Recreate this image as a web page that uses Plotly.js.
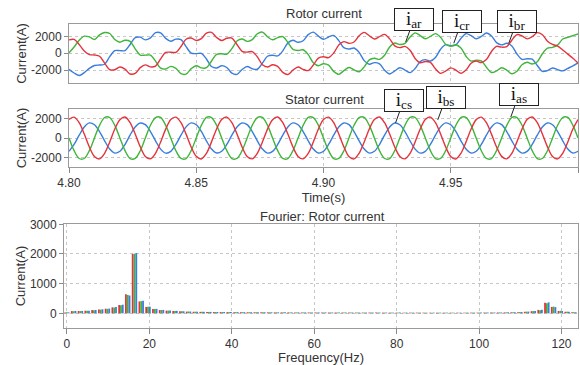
<!DOCTYPE html>
<html><head><meta charset="utf-8">
<script src="https://cdn.plot.ly/plotly-3.0.1.min.js"></script>
<style>html,body{margin:0;padding:0;background:#fff}#chart{width:580px;height:365px}</style>
</head><body><div id="chart"></div>
<script>
// ---- data ----
const timeStart = 4.8;      // s
const timeStep = 0.002;     // s (sample spacing)

const rotorRed = [1600,1650,1050,268,-150,-200,-350,-1170,-1957,-1962,
-1633,-1884,-2467,-2403,-1710,-1377,-1622,-1522,-665,98,
132,114,806,1678,1818,1521,1746,2402,2496,1885,
1527,1790,1814,1045,238,143,207,-422,-1356,-1626,
-1370,-1564,-2274,-2525,-2013,-1637,-1912,-2059,-1399,-568,
-415,-521,27,999,1394,1185,1342,2088,2489,2089,
1707,1984,2250,1716,885,676,822,367,-617,-1124,
-971,-1087,-1849,-2389,-2112,-1734,-2007,-2384,-1991,-1179,
-920,-1102,-752,218,826,731,804,1563,2229,2081,
1717,1978,2457,2214,1444,1050,850,400,-100,-600,-1150];

const rotorGreen = [50,750,1550,2039,1950,1650,2200,2476,2359,1642,
1319,1557,1416,533,-210,-223,-221,-929,-1777,-1871,
-1562,-1796,-2431,-2472,-1832,-1481,-1739,-1722,-921,-126,
-51,-101,552,1468,1695,1425,1629,2323,2523,1976,
1606,1876,1983,1284,459,326,418,-160,-1122,-1476,
-1251,-1420,-2157,-2508,-2069,-1688,-1966,-2193,-1614,-782,
-590,-724,-236,747,1219,1046,1174,1934,2429,2111,
1730,2005,2346,1905,1084,840,1012,627,-352,-928,
-813,-901,-1663,-2289,-2097,-1728,-1995,-2440,-2145,-1360,
-1070,-1274,-999,-52,616,700,1000,1700,1900,2100,2300];

const rotorBlue = [-1900,-2350,-2650,-2307,-1800,-1450,-1400,-1306,-402,320,
314,327,1051,1870,1920,1600,1843,2451,2442,1773,
1430,1682,1625,794,14,-40,-7,-680,-1575,-1759,
-1476,-1689,-2366,-2513,-1933,-1568,-1836,-1901,-1167,-350,
-236,-312,291,1241,1554,1311,1494,2219,2521,2044,
1666,1941,2130,1509,675,503,624,105,-875,-1307,
-1117,-1260,-2014,-2463,-2104,-1722,-1996,-2301,-1812,-987,
-759,-918,-497,484,1028,894,995,1757,2343,2107,
1733,2003,2415,2071,1271,997,1191,877,-84,-721,
-647,-704,-1458,-2162,-2060,-1750,-1950,-2100,-1800,-1500,-1150];

const statorRed = [1884,2133,1567,403,-915,-1884,-2133,-1567,-403,915,
1870,2140,1580,410,-900,-1890,-2120,-1560,-410,905,
1890,2125,1560,395,-920,-1875,-2140,-1575,-395,920,
1880,2135,1570,405,-910,-1885,-2130,-1565,-405,910,
1875,2145,1565,400,-915,-1880,-2125,-1570,-400,915,
1885,2130,1575,410,-905,-1890,-2135,-1560,-410,920,
1880,2140,1560,400,-920,-1880,-2130,-1575,-400,910,
1890,2135,1570,405,-910,-1885,-2140,-1565,-405,915,
1875,2125,1565,395,-915,-1875,-2125,-1570,-395,905,
1885,2140,1575,410,-905,-1890,-2135,-1560,-410,920,1880];

const statorBlue = [-1358,-660,290,1130,1538,1358,660,-290,-1130,-1538,
-1350,-665,295,1125,1530,1365,655,-285,-1135,-1545,
-1362,-655,285,1135,1540,1350,665,-295,-1125,-1530,
-1355,-660,290,1128,1535,1360,660,-290,-1132,-1540,
-1360,-662,292,1132,1542,1355,658,-288,-1128,-1536,
-1352,-658,288,1130,1536,1362,662,-292,-1130,-1542,
-1358,-664,294,1126,1532,1356,656,-286,-1134,-1538,
-1364,-656,286,1134,1540,1352,664,-294,-1126,-1534,
-1356,-660,290,1130,1538,1360,660,-290,-1130,-1540,
-1360,-662,292,1128,1534,1358,658,-288,-1132,-1536,-1356];

const statorGreen = [0,-1293,-2092,-2092,-1293,0,1293,2092,2092,1293,
10,-1285,-2100,-2085,-1300,-10,1300,2085,2100,1285,
-5,-1298,-2088,-2098,-1288,5,1288,2098,2088,1298,
5,-1290,-2095,-2090,-1295,0,1295,2090,2095,1290,
0,-1295,-2090,-2095,-1290,-5,1290,2095,2090,1295,
-8,-1288,-2098,-2088,-1298,8,1298,2088,2098,1288,
4,-1294,-2092,-2094,-1292,-4,1292,2094,2092,1294,
0,-1292,-2094,-2090,-1294,2,1294,2090,2094,1292,
-4,-1296,-2090,-2096,-1290,-2,1290,2096,2090,1296,
6,-1290,-2096,-2092,-1296,4,1296,2092,2096,1290,0];

const fftFreq = [0,1.64,3.28,4.92,6.56,8.2,9.84,11.48,13.12,14.76,
16.4,18.04,19.68,21.32,22.96,24.6,26.24,27.88,29.52,31.16,
32.8,34.44,36.08,37.72,39.36,41,42.64,44.28,45.92,47.56,
49.2,50.84,52.48,54.12,55.76,57.4,59.04,60.68,62.32,63.96,
65.6,67.24,68.88,70.52,72.16,73.8,75.44,77.08,78.72,80.36,
82,83.64,85.28,86.92,88.56,90.2,91.84,93.48,95.12,96.76,
98.4,100.04,101.68,103.32,104.96,106.6,108.24,109.88,111.52,113.16,
114.8,116.44,118.08,119.72,121.36,123];

const fftRed = [30,75,78,88,108,130,155,200,280,640,
2000,400,215,145,110,90,78,68,58,52,
48,46,44,42,40,38,37,36,35,34,
33,32,31,30,30,29,29,28,28,27,
27,26,26,25,25,25,24,24,24,23,
23,23,23,22,22,22,22,22,23,23,
23,24,25,26,28,30,34,40,52,72,
115,360,215,80,52,36];

const fftGreen = [35,70,75,85,105,125,150,195,270,620,
2010,410,220,148,112,92,80,70,60,54,
50,47,45,43,41,39,38,37,36,35,
34,33,32,31,30,30,29,29,28,28,
27,27,26,26,25,25,25,24,24,24,
23,23,23,23,22,22,22,22,23,23,
24,24,25,27,29,31,35,42,55,75,
105,340,225,85,55,38];

const fftBlue = [30,80,80,90,112,135,160,210,290,600,
2030,420,225,150,115,95,82,70,60,55,
50,48,46,44,42,40,38,37,36,35,
34,33,32,31,31,30,30,29,29,28,
28,27,27,26,26,25,25,25,24,24,
24,23,23,23,23,22,22,23,23,24,
24,25,26,27,29,32,36,44,58,78,
120,370,210,78,50,35];

const rotorLabels = [
  {name:'ar', t:4.9323, v:1350},
  {name:'cr', t:4.9512, v:1200},
  {name:'br', t:4.9728, v:1200}];
const statorLabels = [
  {name:'cs', t:4.9283, v:1540},
  {name:'bs', t:4.9449, v:1850},
  {name:'as', t:4.9736, v:2150}];

// ---- styling ----
const RED='#e4333c', GREEN='#3fb53a', BLUE='#3a7edb';
const FONT='Liberation Sans, Arial, sans-serif';
const W=580, H=365;
const fx = p => p/W, fy = p => 1 - p/H;

function lineTrace(y, color, xa, ya){
  return {type:'scatter', mode:'lines', x0:timeStart, dx:timeStep, y:y,
    xaxis:xa, yaxis:ya, line:{color:color, width:1.4, shape:'spline', smoothing:0.9},
    hoverinfo:'skip'};
}
function barTrace(y, color){
  return {type:'bar', x:fftFreq, y:y, xaxis:'x3', yaxis:'y3',
    marker:{color:color, line:{width:0}}, hoverinfo:'skip'};
}

const data = [
  lineTrace(rotorBlue, BLUE, 'x', 'y'),
  lineTrace(rotorGreen, GREEN, 'x', 'y'),
  lineTrace(rotorRed, RED, 'x', 'y'),
  lineTrace(statorBlue, BLUE, 'x2', 'y2'),
  lineTrace(statorGreen, GREEN, 'x2', 'y2'),
  lineTrace(statorRed, RED, 'x2', 'y2'),
  barTrace(fftRed, RED), barTrace(fftGreen, GREEN), barTrace(fftBlue, BLUE)
];

const base = {showline:true, mirror:true, linecolor:'#9a9a9a', linewidth:1,
  showgrid:true, gridcolor:'#c6c6c6', griddash:'dot', gridwidth:1, zeroline:false,
  tickfont:{family:FONT, size:12, color:'#333'}, ticks:'outside', ticklen:4,
  tickcolor:'#8a8a8a', automargin:false, fixedrange:true};
const ytitle = {text:'Current(A)', font:{family:FONT, size:13, color:'#333'}, standoff:1};

const layout = {
  width:W, height:H, margin:{l:0,r:0,t:0,b:0},
  paper_bgcolor:'#fff', plot_bgcolor:'#fff', showlegend:false,
  barmode:'group', bargap:0.2, bargroupgap:0,
  xaxis: Object.assign({}, base, {domain:[fx(69),fx(578)], range:[4.8,5.0], tick0:4.8, dtick:0.05,
    showticklabels:false, ticks:'', anchor:'y'}),
  yaxis: Object.assign({}, base, {domain:[fy(83),fy(24)], range:[-3540,3490],
    tickvals:[-2000,0,2000], ticktext:['-2000','0','2000'], anchor:'x', title:ytitle}),
  xaxis2: Object.assign({}, base, {domain:[fx(69),fx(578)], range:[4.8,5.0], tick0:4.8, dtick:0.05,
    tickformat:'.2f', ticklen:5, anchor:'y2',
    title:{text:'Time(s)', font:{family:FONT, size:13, color:'#333'}, standoff:2}}),
  yaxis2: Object.assign({}, base, {domain:[fy(167),fy(109)], range:[-2960,2960],
    tickvals:[-2000,0,2000], ticktext:['-2000','0','2000'], anchor:'x2', title:ytitle}),
  xaxis3: Object.assign({}, base, {domain:[fx(64),fx(578)], range:[-0.7,124], tick0:0, dtick:20,
    ticklen:5, anchor:'y3',
    title:{text:'Frequency(Hz)', font:{family:FONT, size:13, color:'#333'}, standoff:2}}),
  yaxis3: Object.assign({}, base, {domain:[fy(328),fy(224)], range:[-495,3010], tick0:0, dtick:1000,
    anchor:'x3', title:ytitle}),
  annotations: []
};

function titleAnn(text, px, py){
  return {xref:'paper', yref:'paper', x:fx(px), y:fy(py), text:text, showarrow:false,
    xanchor:'center', yanchor:'middle', font:{family:FONT, size:13, color:'#333'}};
}
layout.annotations.push(titleAnn('Rotor current', 324, 14));
layout.annotations.push(titleAnn('Stator current', 324, 99));
layout.annotations.push(titleAnn('Fourier: Rotor current', 322, 216));

function callout(lbl, xa, ya){
  return {xref:xa, yref:ya, x:lbl.t, y:lbl.v, ax:8, ay:-22,
    text:'i<sub>'+lbl.name+'</sub>', showarrow:true, arrowhead:0, arrowwidth:1,
    arrowcolor:'#222', bordercolor:'#222', borderwidth:1, borderpad:2, bgcolor:'#fff',
    width:34, height:17,
    font:{family:'Liberation Serif, Times New Roman, serif', size:19, color:'#111'}};
}
rotorLabels.forEach(l => layout.annotations.push(callout(l, 'x', 'y')));
statorLabels.forEach(l => layout.annotations.push(callout(l, 'x2', 'y2')));

Plotly.newPlot('chart', data, layout, {staticPlot:true, displayModeBar:false});
</script></body></html>
